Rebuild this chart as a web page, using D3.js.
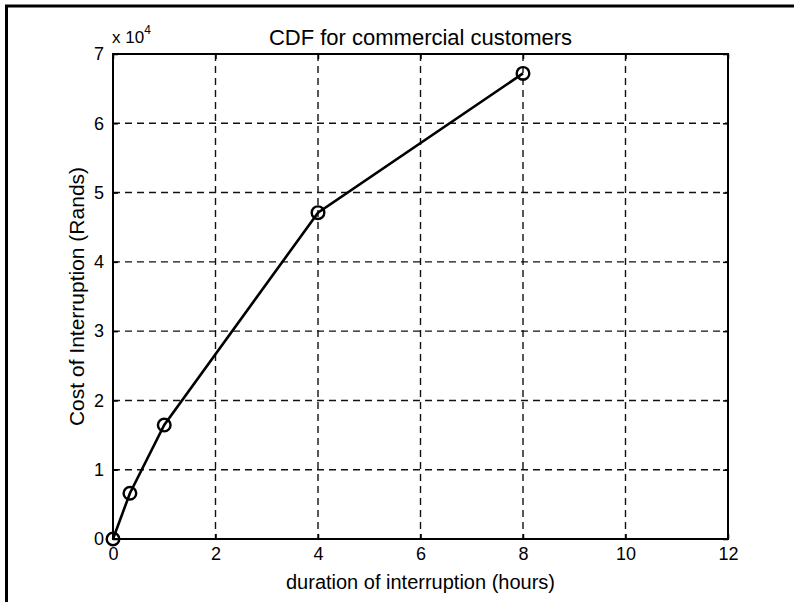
<!DOCTYPE html>
<html><head><meta charset="utf-8">
<script src="https://cdn.jsdelivr.net/npm/d3@7"></script>
<style>body{margin:0;background:#fff;}svg{display:block;font-family:"Liberation Sans",Arial,sans-serif;}</style>
</head><body>
<svg id="c" width="794" height="602"></svg>
<script>
const durations = [0, 0.33, 1, 4, 8];
const costs = [0, 6600, 16450, 47100, 67200];
const xTicks = [0, 2, 4, 6, 8, 10, 12];
const yTicks = [0, 1, 2, 3, 4, 5, 6, 7];
const title = "CDF for commercial customers";
const xLabel = "duration of interruption (hours)";
const yLabel = "Cost of Interruption (Rands)";

const svg = d3.select("#c");
const L = 113, R = 728, T = 54, B = 539;
const x = d3.scaleLinear().domain([0, 12]).range([L, R]);
const y = d3.scaleLinear().domain([0, 7]).range([B, T]);

// outer frame
svg.append("rect").attr("x", 6.5).attr("y", 6).attr("width", 800).attr("height", 610)
  .attr("fill", "none").attr("stroke", "#000").attr("stroke-width", 3);

// grid
const g = svg.append("g");
g.selectAll(".vg").data(xTicks.slice(1, -1)).join("line")
  .attr("x1", d => x(d)).attr("x2", d => x(d)).attr("y1", T).attr("y2", B)
  .attr("stroke", "#111").attr("stroke-width", 1.4).attr("stroke-dasharray", "7,5");
g.selectAll(".hg").data(yTicks.slice(1, -1)).join("line")
  .attr("y1", d => y(d)).attr("y2", d => y(d)).attr("x1", L).attr("x2", R)
  .attr("stroke", "#111").attr("stroke-width", 1.4).attr("stroke-dasharray", "7,5");

// axes via d3
const xAxisB = d3.axisBottom(x).tickValues(xTicks).tickSize(-5).tickPadding(8).tickFormat(d3.format("d"));
const xAxisT = d3.axisTop(x).tickValues(xTicks).tickSize(-5).tickFormat("");
const yAxisL = d3.axisLeft(y).tickValues(yTicks).tickSize(-5).tickPadding(9).tickFormat(d3.format("d"));
const yAxisR = d3.axisRight(y).tickValues(yTicks).tickSize(-5).tickFormat("");
function style(sel) {
  sel.select(".domain").remove();
  sel.selectAll(".tick line").attr("stroke", "#000").attr("stroke-width", 1.5);
  sel.selectAll(".tick text").attr("fill", "#000").style("font-size", "18px")
    .style("font-family", "'Liberation Sans',Arial,sans-serif");
}
svg.append("g").attr("transform", `translate(0,${B})`).call(xAxisB).call(style);
svg.append("g").attr("transform", `translate(0,${T})`).call(xAxisT).call(style);
svg.append("g").attr("transform", `translate(${L},0)`).call(yAxisL).call(style);
svg.append("g").attr("transform", `translate(${R},0)`).call(yAxisR).call(style);

// box
svg.append("rect").attr("x", L).attr("y", T).attr("width", R - L).attr("height", B - T)
  .attr("fill", "none").attr("stroke", "#000").attr("stroke-width", 2);

// data line
const pts = durations.map((d, i) => [d, costs[i] / 1e4]);
svg.append("path").datum(pts)
  .attr("d", d3.line().x(d => x(d[0])).y(d => y(d[1])))
  .attr("fill", "none").attr("stroke", "#000").attr("stroke-width", 2.6);
svg.selectAll(".pt").data(pts).join("circle")
  .attr("cx", d => x(d[0])).attr("cy", d => y(d[1])).attr("r", 6.3)
  .attr("fill", "none").attr("stroke", "#000").attr("stroke-width", 2.4);

// texts
svg.append("text").attr("x", (L + R) / 2).attr("y", 45).attr("text-anchor", "middle")
  .style("font-size", "22px").text(title);
svg.append("text").attr("x", (L + R) / 2).attr("y", 589).attr("text-anchor", "middle")
  .style("font-size", "20px").text(xLabel);
svg.append("text").attr("transform", `translate(84,${(T + B) / 2}) rotate(-90)`)
  .attr("text-anchor", "middle").style("font-size", "21px").text(yLabel);
const ex = svg.append("text").attr("x", 112).attr("y", 43).style("font-size", "17px");
ex.append("tspan").text("x 10");
ex.append("tspan").attr("dy", -9).style("font-size", "12px").text("4");
</script>
</body></html>
